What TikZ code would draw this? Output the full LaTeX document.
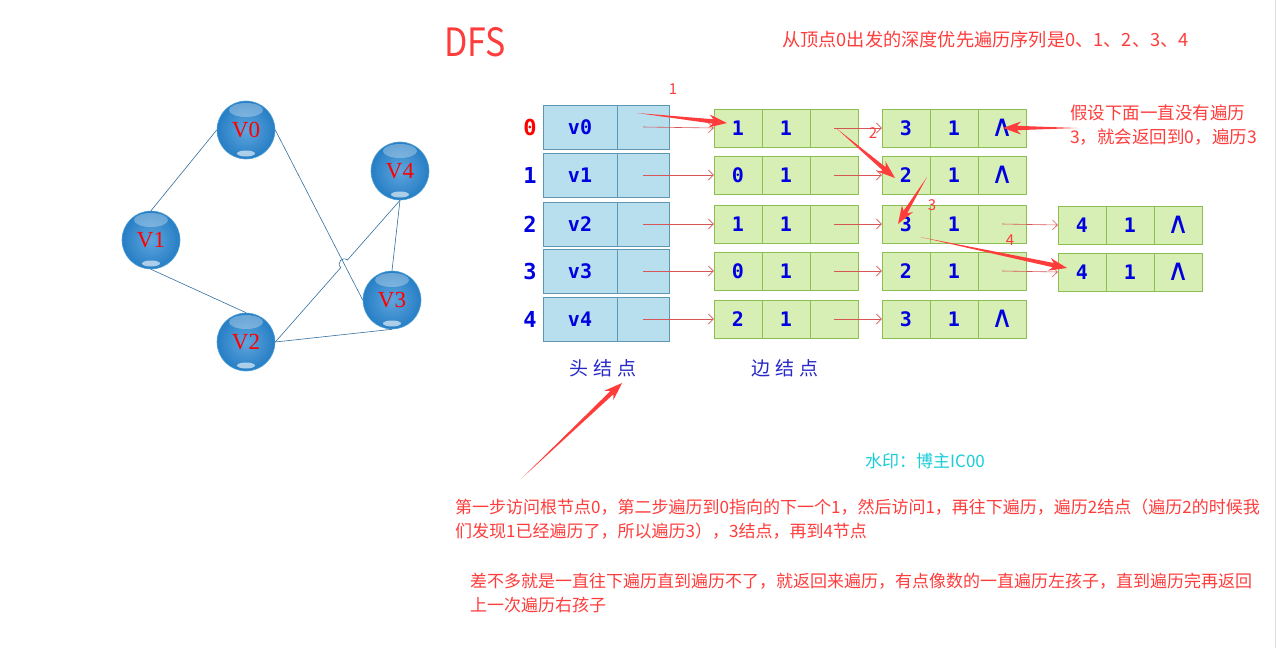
\documentclass[tikz,border=0pt]{standalone}
\usepackage{fontspec}
\setmainfont{Noto Sans CJK SC}
\newfontfamily\codefont{DejaVu Sans Mono}
\newfontfamily\vfont{Liberation Serif}
\newfontfamily\symfont{DejaVu Sans}
\usetikzlibrary{arrows.meta,calc,positioning}

\definecolor{hlred}{RGB}{255,60,60}
\definecolor{thinred}{RGB}{215,85,85}
\definecolor{cellblue}{RGB}{0,0,225}
\definecolor{headfill}{RGB}{184,223,238}
\definecolor{headline}{RGB}{95,150,180}
\definecolor{edgefill}{RGB}{215,238,180}
\definecolor{edgeline}{RGB}{140,190,80}
\definecolor{graphline}{RGB}{50,110,160}
\definecolor{markcyan}{RGB}{25,205,215}
\definecolor{labblue}{RGB}{40,40,200}

\newcommand\nilmark{{\symfont\mdseries\fontsize{30}{30}\selectfont ∧}}

% tapered red arrow: #1 tail, #2 tip
\newcommand\bigarrow[2]{%
    \coordinate (waist) at ($(#2)!14pt!(#1)$);
    \coordinate (neck) at ($(#2)!18pt!(#1)$);
    \fill[hlred] (#1) -- ($(waist)!2.2pt!90:(#2)$) -- ($(neck)!6.5pt!90:(#2)$) -- (#2)
        -- ($(neck)!6.5pt!-90:(#2)$) -- ($(waist)!2.2pt!-90:(#2)$) -- cycle;}

\begin{document}
\begin{tikzpicture}[x=1pt,y=-1pt,
    vtx/.style={circle, minimum size=58pt, inner sep=0pt,
        draw={rgb,255:red,80;green,160;blue,215}, line width=0.6pt,
        inner color={rgb,255:red,95;green,165;blue,222},
        outer color={rgb,255:red,38;green,126;blue,196},
        text=red, font=\vfont\fontsize{23}{23}\selectfont,
        path picture={
            \fill[white,opacity=.6] ($(path picture bounding box.south)+(0,5.5pt)$) ellipse [x radius=9pt, y radius=3pt];
            \fill[white,opacity=.3] ($(path picture bounding box.north)+(0,-9pt)$) ellipse [x radius=17pt, y radius=7pt];
        }},
    gedge/.style={graphline, line width=0.6pt},
    headcell/.style={rectangle, draw=headline, fill=headfill, minimum height=44pt, inner sep=0pt,
        text=cellblue, font=\codefont\bfseries\fontsize{20}{20}\selectfont},
    edgecell/.style={rectangle, draw=edgeline, fill=edgefill, minimum width=48pt, minimum height=38pt,
        inner sep=0pt, text=cellblue, font=\codefont\bfseries\fontsize{20}{20}\selectfont},
    idx/.style={font=\codefont\bfseries\fontsize{22}{22}\selectfont},
    link/.style={thinred, line width=0.6pt, -{Straight Barb[length=5pt,width=10pt]}},
    note/.style={anchor=west, inner sep=0pt, text=hlred, font=\fontsize{17}{17}\selectfont},
    steplab/.style={inner sep=0pt, text=hlred, font=\fontsize{15}{15}\selectfont},
    partlab/.style={inner sep=0pt, text=labblue, font=\fontsize{19}{19}\selectfont}]

    \useasboundingbox (0,0) rectangle (1277,648);
    \draw[gray!25, line width=1pt] (1275,0) -- (1275,648);

    % the graph
    \node[vtx] (v0) at (246,130) {V0};
    \node[vtx] (v1) at (151,240) {V1};
    \node[vtx] (v4) at (400,171) {V4};
    \node[vtx] (v3) at (392,300) {V3};
    \node[vtx] (v2) at (246,342) {V2};

    \draw[gedge] (v0.west) -- (v1.north);
    \draw[gedge] (v1.south) -- (v2.north);
    \draw[gedge] (v0.east) -- (v3.west);
    \draw[gedge] (v2.east) -- (v3.south);
    \draw[gedge] (v4.south) -- (v3.north);
    % V2--V4 jumps over V0--V3
    \coordinate (hx) at (intersection of v0.east--v3.west and v2.east--v4.south);
    \coordinate (hop1) at ($(hx)!5pt!(v2.east)$);
    \coordinate (hop2) at ($(hx)!5pt!(v4.south)$);
    \draw[gedge] (v2.east) -- (hop1)
        .. controls ($(hop1)!6.5pt!90:(hop2)$) and ($(hop2)!6.5pt!-90:(hop1)$) .. (hop2)
        -- (v4.south);

    % head nodes
    \foreach \i/\y/\c in {0/127/red,1/175/cellblue,2/224/cellblue,3/271/cellblue,4/319/cellblue} {
        \node[idx, text=\c] (ix\i) at (530,\y) {\i};
        \node[headcell, minimum width=74pt] (hl\i) at (580,\y) {v\i};
        \node[headcell, minimum width=52pt] (hr\i) at (643,\y) {};
    }

    % edge nodes, second column
    \foreach \i/\y/\p/\q/\e in {0/128/3/1/\nilmark,1/175/2/1/\nilmark,2/224/3/1/,3/271/2/1/,4/319/3/1/\nilmark} {
        \node[edgecell] (b\i1) at (906,\y) {\p};
        \node[edgecell] (b\i2) at (954,\y) {\q};
        \node[edgecell] (b\i3) at (1002,\y) {\e};
    }

    % edge nodes, first column
    \foreach \i/\y/\p/\q in {0/128/1/1,1/175/0/1,2/224/1/1,3/271/0/1,4/319/2/1} {
        \node[edgecell] (a\i1) at (738,\y) {\p};
        \node[edgecell] (a\i2) at (786,\y) {\q};
        \node[edgecell] (a\i3) at (834,\y) {};
        \draw[link] (hr\i.center) -- (a\i1.west);
        \draw[link] (a\i3.center) -- (b\i1.west);
    }

    % edge nodes, third column
    \foreach \i/\y in {2/225,3/272} {
        \node[edgecell] (c\i1) at (1082,\y) {4};
        \node[edgecell] (c\i2) at (1130,\y) {1};
        \node[edgecell] (c\i3) at (1178,\y) {\nilmark};
        \draw[link] (b\i3.center) -- (c\i1.west);
    }

    \node[partlab] (headlab) at (603,368) {头\hspace{5pt}结\hspace{5pt}点};
    \node[partlab] (edgelab) at (785,368) {边\hspace{5pt}结\hspace{5pt}点};

    % red traversal arrows
    \coordinate (t1) at (637,113);  \coordinate (p1) at (727,123);
    \coordinate (t2) at (836,128);  \coordinate (p2) at (895,178);
    \coordinate (t3) at (927,177);  \coordinate (p3) at (898,224);
    \coordinate (t4) at (920,237);  \coordinate (p4) at (1067,268);
    \coordinate (t5) at (1077,128); \coordinate (p5) at (1003,128);
    \coordinate (t6) at (522,478);  \coordinate (p6) at (622,383);
    \foreach \k in {1,...,6} {
        \bigarrow{t\k}{p\k}
    }
    \node[steplab] (s1) at (673,89) {1};
    \node[steplab] (s2) at (873,133) {2};
    \node[steplab] (s3) at (932,205) {3};
    \node[steplab] (s4) at (1010,240) {4};

    % texts
    \node[inner sep=0pt, text=hlred, font=\fontsize{39}{39}\selectfont] (title) at (475,42) {\scalebox{0.87}[1]{DFS}};
    \node[note, font=\fontsize{18.2}{18.2}\selectfont] (order) at (782,40) {从顶点0出发的深度优先遍历序列是0、1、2、3、4};
    \node[note, font=\fontsize{17.5}{17.5}\selectfont] (back1) at (1070,113) {假设下面一直没有遍历};
    \node[note, font=\fontsize{17.5}{17.5}\selectfont] (back2) at (1070,137) {3，就会返回到0，遍历3};
    \node[note, text=markcyan] (mark) at (865,461) {水印：博主IC00};
    \node[note] (step1) at (455,507) {第一步访问根节点0，第二步遍历到0指向的下一个1，然后访问1，再往下遍历，遍历2结点（遍历2的时候我};
    \node[note] (step2) at (455,531) {们发现1已经遍历了，所以遍历3），3结点，再到4节点};
    \node[note] (sum1) at (470,581) {差不多就是一直往下遍历直到遍历不了，就返回来遍历，有点像数的一直遍历左孩子，直到遍历完再返回};
    \node[note] (sum2) at (470,605) {上一次遍历右孩子};
\end{tikzpicture}
\end{document}
